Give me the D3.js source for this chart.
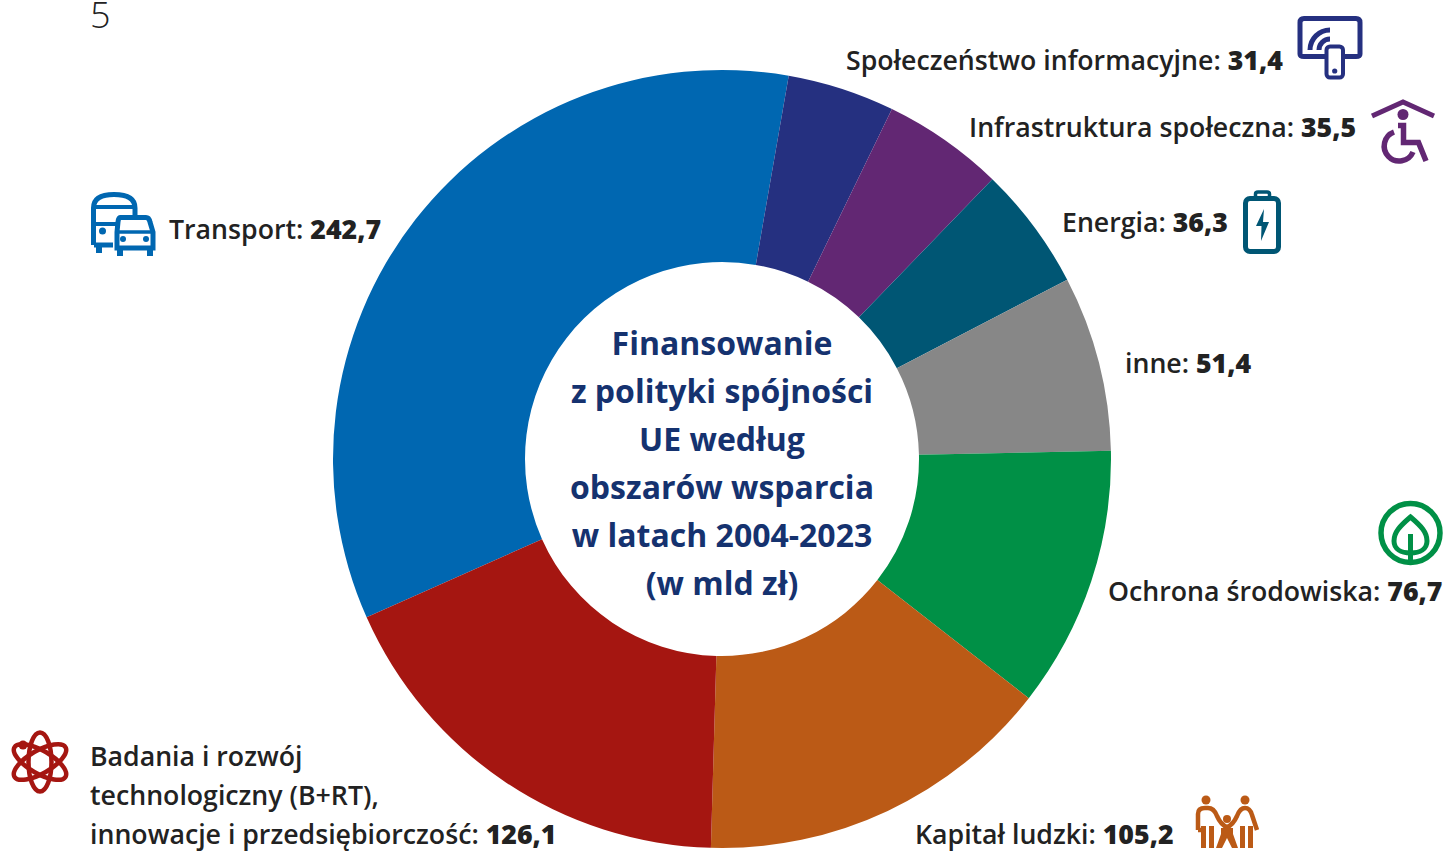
<!DOCTYPE html>
<html>
<head>
<meta charset="utf-8">
<script src="https://cdn.jsdelivr.net/npm/d3@7"></script>
<style>
  html, body { margin: 0; padding: 0; background: #fff; overflow: hidden; }
  text { font-family: "Open Sans", sans-serif; }
</style>
</head>
<body>
<div id="wrapper"></div>
<script>
const categories = [
  "Transport",
  "Społeczeństwo informacyjne",
  "Infrastruktura społeczna",
  "Energia",
  "inne",
  "Ochrona środowiska",
  "Kapitał ludzki",
  "Badania i rozwój technologiczny (B+RT), innowacje i przedsiębiorczość",
]
const values = [242.7, 31.4, 35.5, 36.3, 51.4, 76.7, 105.2, 126.1]
const colors = ["#0067b1", "#253080", "#622773", "#005674", "#878787", "#009046", "#bb5a16", "#a51611"]
const titleLines = [
  "Finansowanie",
  "z polityki spójności",
  "UE według",
  "obszarów wsparcia",
  "w latach 2004-2023",
  "(w mld zł)",
]

const width = 1443
const height = 852
const cx = 722
const cy = 459
const outerRadius = 389
const innerRadius = 197
const fontSize = 26.7

const wrapper = d3.select("#wrapper")
  .append("svg")
  .attr("width", width)
  .attr("height", height)

const bounds = wrapper.append("g")
  .attr("transform", `translate(${cx}, ${cy})`)

const pie = d3.pie()
  .sort(null)
  .startAngle(-114 * Math.PI / 180)
  .endAngle(246 * Math.PI / 180)

const arc = d3.arc()
  .innerRadius(innerRadius)
  .outerRadius(outerRadius)

bounds.selectAll("path")
  .data(pie(values))
  .join("path")
  .attr("d", arc)
  .attr("fill", (d, i) => colors[i])

// center title
const lineHeight = 48
bounds.append("g")
  .selectAll("text")
  .data(titleLines)
  .join("text")
  .attr("x", 0)
  .attr("y", (d, i) => (i - 2.5) * lineHeight + 16)
  .attr("text-anchor", "middle")
  .attr("fill", "#15326f")
  .style("font-size", "32px")
  .style("font-weight", 700)
  .text(d => d)

// labels
const comma = d3.formatLocale({decimal: ",", thousands: " ", grouping: [3], currency: ["", ""]}).format(".1f")

const labelPlaces = [
  {x: 169, y: 239, lines: ["Transport"]},
  {x: 846, y: 70, lines: ["Społeczeństwo informacyjne"]},
  {x: 969, y: 137, lines: ["Infrastruktura społeczna"]},
  {x: 1062, y: 232, lines: ["Energia"]},
  {x: 1125, y: 373, lines: ["inne"]},
  {x: 1108, y: 601, lines: ["Ochrona środowiska"]},
  {x: 915, y: 844, lines: ["Kapitał ludzki"]},
  {x: 90, y: 766, lines: ["Badania i rozwój", "technologiczny (B+RT),", "innowacje i przedsiębiorczość"]},
]

labelPlaces.forEach((p, i) => {
  p.lines.forEach((line, j) => {
    const last = j == p.lines.length - 1
    const t = wrapper.append("text")
      .attr("x", p.x)
      .attr("y", p.y + j * 39)
      .attr("fill", "#222")
      .style("font-size", fontSize + "px")
      .style("font-weight", 600)
    t.append("tspan").text(last ? line + ": " : line)
    if (last) {
      t.append("tspan")
        .style("font-weight", 800)
        .text(comma(values[i]))
    }
  })
})

// page number
wrapper.append("text")
  .attr("x", 90)
  .attr("y", 28)
  .attr("fill", "#222")
  .style("font-size", "36px")
  .style("font-weight", 300)
  .text("5")

// icons
const line = (g, d, color, w) => g.append("path")
  .attr("d", d)
  .attr("fill", "none")
  .attr("stroke", color)
  .attr("stroke-width", w)
const dot = (g, x, y, r, color) => g.append("circle")
  .attr("cx", x).attr("cy", y).attr("r", r).attr("fill", color)

// tablet + phone
const tablet = wrapper.append("g")
line(tablet, "M1304 18.5H1356Q1360 18.5 1360 22.5V54Q1360 56.5 1356 56.5H1304Q1300 56.5 1300 54V22.5Q1300 18.5 1304 18.5Z", colors[1], 5)
line(tablet, "M1310 50A20 20 0 0 1 1330 30", colors[1], 5)
line(tablet, "M1319 50A11 11 0 0 1 1330 39", colors[1], 5)
tablet.append("rect").attr("x", 1326.5).attr("y", 46.5).attr("width", 16.5).attr("height", 31).attr("rx", 3.5)
  .attr("fill", "#fff").attr("stroke", colors[1]).attr("stroke-width", 4)
dot(tablet, 1334.7, 71, 2.6, colors[1])

// wheelchair
const chair = wrapper.append("g")
line(chair, "M1372 116L1403 102L1434 116", colors[2], 5)
dot(chair, 1403, 114.5, 5.5, colors[2])
line(chair, "M1398 125.5H1403.5V142.5H1418.5L1426 161", colors[2], 5.5)
line(chair, "M1394 132A15 15 0 1 0 1413 152", colors[2], 5.5)

// battery
const battery = wrapper.append("g")
battery.append("rect").attr("x", 1245.5).attr("y", 198.5).attr("width", 33).attr("height", 53).attr("rx", 4.5)
  .attr("fill", "none").attr("stroke", colors[3]).attr("stroke-width", 5)
line(battery, "M1255.5 197V194Q1255.5 192 1258 192H1267Q1269.5 192 1269.5 194V197", colors[3], 3.5)
battery.append("path").attr("d", "M1264 209L1256 226H1261.5L1261 241L1269 222H1263Z").attr("fill", colors[3])

// tree
const tree = wrapper.append("g")
tree.append("circle").attr("cx", 1410.5).attr("cy", 533).attr("r", 29.5)
  .attr("fill", "none").attr("stroke", colors[5]).attr("stroke-width", 5.5)
line(tree, "M1410.5 517C1400 526 1394 532 1394 541C1394 549 1401 553 1410.5 553C1420 553 1427 549 1427 541C1427 532 1421 526 1410.5 517Z", colors[5], 5)
line(tree, "M1410.5 534V562", colors[5], 5)

// family
const family = wrapper.append("g")
dot(family, 1206, 800, 4.5, colors[6])
dot(family, 1245, 800, 4.5, colors[6])
dot(family, 1227, 819, 4, colors[6])
line(family, "M1198 830V814Q1198 808 1205 808H1208Q1214 808 1217 816Q1221 825 1227 827Q1233 825 1237 816Q1240 808 1245 808Q1250 808 1252 815L1257 830", colors[6], 4.5)
line(family, "M1198 830H1203", colors[6], 4.5)
family.append("rect").attr("x", 1201).attr("y", 826).attr("width", 5).attr("height", 22).attr("fill", colors[6])
family.append("rect").attr("x", 1209).attr("y", 826).attr("width", 5).attr("height", 22).attr("fill", colors[6])
family.append("rect").attr("x", 1240).attr("y", 826).attr("width", 5).attr("height", 22).attr("fill", colors[6])
family.append("rect").attr("x", 1248).attr("y", 826).attr("width", 5).attr("height", 22).attr("fill", colors[6])
family.append("path").attr("d", "M1221 828H1233V834L1238 848H1232L1227 838L1222 848H1216L1221 834Z").attr("fill", colors[6])

// atom
const atom = wrapper.append("g").attr("transform", "translate(40, 762)")
;[0, 60, -60].forEach(r => {
  atom.append("ellipse").attr("rx", 11.5).attr("ry", 29.5)
    .attr("transform", `rotate(${r})`)
    .attr("fill", "none").attr("stroke", colors[7]).attr("stroke-width", 4.5)
})
dot(atom, -17, -17, 4.5, colors[7])

// bus + car
const bus = wrapper.append("g")
line(bus, "M93.5 245V208Q93.5 194.5 114 194.5Q135 194.5 135 208V218", colors[0], 5)
line(bus, "M94 207H135", colors[0], 4)
line(bus, "M94 224H116", colors[0], 4)
line(bus, "M94 245H113", colors[0], 5)
line(bus, "M99 246V253", colors[0], 6)
dot(bus, 102.5, 231, 3.5, colors[0])
line(bus, "M120 217.5H146Q149 217.5 150 222L153 232V248H117V232L118 222Q118.5 217.5 120 217.5Z", colors[0], 5)
line(bus, "M117 232H153", colors[0], 3.5)
line(bus, "M120 248V256M150 248V256", colors[0], 6)
dot(bus, 123, 239, 3, colors[0])
dot(bus, 146, 239, 3, colors[0])
</script>
</body>
</html>
